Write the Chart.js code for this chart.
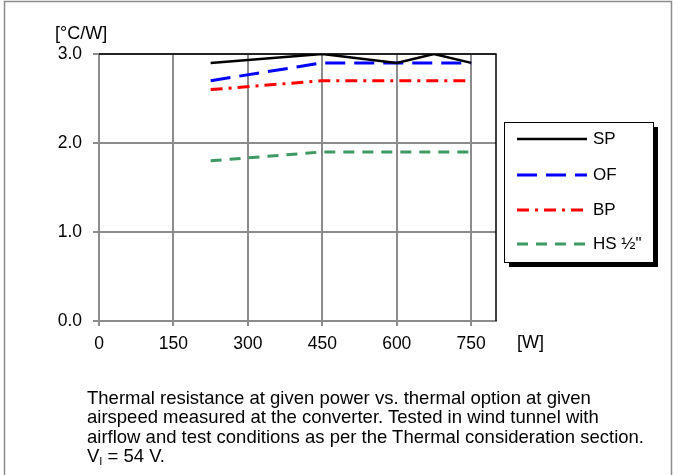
<!DOCTYPE html>
<html>
<head>
<meta charset="utf-8">
<script src="https://cdn.jsdelivr.net/npm/chart.js@4/dist/chart.umd.min.js"></script>
<style>
  body { margin: 0; background: #fff; }
  #wrap { position: relative; width: 678px; height: 475px; }
  #chart { position: absolute; left: 0; top: 0; }
  #caption {
    position: absolute; left: 87px; top: 388px; white-space: nowrap;
    font-family: "Liberation Sans", Arial, sans-serif; font-size: 18.5px;
    line-height: 19.4px; color: #000;
  }
  #caption sub { font-size: 11px; vertical-align: -3px; line-height: 0; }
</style>
</head>
<body>
<div id="wrap">
  <canvas id="chart" width="678" height="475"></canvas>
  <div id="caption">Thermal resistance at given power vs. thermal option at given<br>airspeed measured at the converter. Tested in wind tunnel with<br>airflow and test conditions as per the Thermal consideration section.<br>V<sub>I</sub> = 54 V.</div>
</div>
<script>
// power levels [W]
const powerW = [225, 450, 600, 675, 750];

// thermal resistance [°C/W] per thermal option
const seriesNames = ["SP", "OF", "BP", "HS \u00BD\""];
const spValues = [2.9, 3.0, 2.9, 3.0, 2.9];
const ofValues = [2.7, 2.9, 2.9, 2.9, 2.9];
const bpValues = [2.6, 2.7, 2.7, 2.7, 2.7];
const hsValues = [1.8, 1.9, 1.9, 1.9, 1.9];

const xTicks = [0, 150, 300, 450, 600, 750];
const yTicks = [0, 1, 2, 3];

const FONT = "'Liberation Sans', Arial, sans-serif";
const GRID = "#8c8c8c";

function pts(vals) {
  return powerW.map((x, i) => ({ x: x, y: vals[i] }));
}

const styles = [
  { color: "#000000", dash: [], width: 2.5 },
  { color: "#0000ff", dash: [20, 9], width: 3 },
  { color: "#ff0000", dash: [12, 6, 3, 6], width: 3 },
  { color: "#3d9a63", dash: [11, 8], width: 3 }
];

const allValues = [spValues, ofValues, bpValues, hsValues];
const datasets = allValues.map((vals, i) => ({
  label: seriesNames[i],
  data: pts(vals),
  borderColor: styles[i].color,
  borderDash: styles[i].dash,
  borderWidth: styles[i].width,
  pointRadius: 0,
  tension: 0,
  fill: false
}));

// frame, plot border, unit labels and boxed legend
const decorations = {
  id: "decorations",
  afterDraw(chart) {
    const c = chart.ctx;
    const a = chart.chartArea;
    c.save();
    // outer frame
    c.strokeStyle = "#8c8c8c";
    c.lineWidth = 1.5;
    c.beginPath();
    c.moveTo(4.5, 480);
    c.lineTo(4.5, 1.5);
    c.lineTo(671.5, 1.5);
    c.lineTo(671.5, 480);
    c.stroke();

    // black top/right plot border
    c.strokeStyle = "#000";
    c.lineWidth = 1.5;
    c.beginPath();
    c.moveTo(a.left, a.top);
    c.lineTo(a.right, a.top);
    c.lineTo(a.right, a.bottom);
    c.stroke();

    // units
    c.fillStyle = "#000";
    c.font = "18px " + FONT;
    c.textBaseline = "middle";
    c.textAlign = "left";
    c.fillText("[\u00B0C/W]", 55, 34);
    c.fillText("[W]", 517, 343);

    // legend box with shadow
    const bx = 504, by = 122, bw = 149, bh = 140;
    c.fillStyle = "#000";
    c.fillRect(bx + 5, by + 5, bw, bh);
    c.fillStyle = "#fff";
    c.fillRect(bx, by, bw, bh);
    c.strokeStyle = "#000";
    c.lineWidth = 1;
    c.strokeRect(bx + 0.5, by + 0.5, bw, bh);

    const rows = [139, 175, 210, 244];
    chart.data.datasets.forEach((ds, i) => {
      c.strokeStyle = ds.borderColor;
      c.lineWidth = ds.borderWidth;
      c.setLineDash(ds.borderDash);
      c.beginPath();
      c.moveTo(517, rows[i]);
      c.lineTo(587, rows[i]);
      c.stroke();
      c.setLineDash([]);
      c.fillStyle = "#000";
      c.font = "17px " + FONT;
      c.fillText(ds.label, 593, rows[i]);
    });
    c.restore();
  }
};

new Chart(document.getElementById("chart"), {
  type: "line",
  data: { datasets: datasets },
  plugins: [decorations],
  options: {
    responsive: false,
    animation: false,
    layout: { padding: { left: 0, top: 54, right: 182, bottom: 0 } },
    plugins: { legend: { display: false }, tooltip: { enabled: false } },
    scales: {
      x: {
        type: "linear",
        min: 0,
        max: 800,
        afterFit(s) { s.height = 154; },
        afterBuildTicks(s) { s.ticks = xTicks.map(v => ({ value: v })); },
        ticks: {
          font: { family: FONT, size: 17.5 },
          color: "#000",
          padding: 8,
          maxRotation: 0
        },
        grid: { color: GRID, lineWidth: 2, tickLength: 5 },
        border: { color: GRID, width: 2 }
      },
      y: {
        min: 0,
        max: 3,
        afterFit(s) { s.width = 99; },
        afterBuildTicks(s) { s.ticks = yTicks.map(v => ({ value: v })); },
        ticks: {
          font: { family: FONT, size: 17.5 },
          color: "#000",
          padding: 11,
          callback: v => v.toFixed(1)
        },
        grid: { color: GRID, lineWidth: 2, tickLength: 6 },
        border: { color: GRID, width: 2 }
      }
    }
  }
});
</script>
</body>
</html>
